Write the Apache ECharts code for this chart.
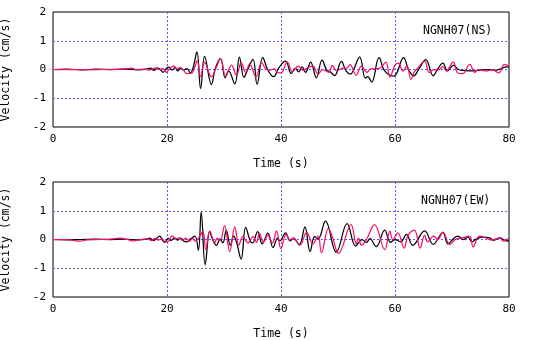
<!DOCTYPE html>
<html>
<head>
<meta charset="utf-8">
<script src="https://cdn.jsdelivr.net/npm/echarts@6/dist/echarts.min.js"></script>
<style>
  html, body { margin: 0; padding: 0; background: #fff; }
  #chart { width: 536px; height: 340px; }
</style>
</head>
<body>
<div id="chart"></div>
<script>
// Velocity records at station NGNH07, two horizontal components.
// Each trace is a list of [time (s), velocity (cm/s)] samples.

const stationNS = 'NGNH07(NS)';
const stationEW = 'NGNH07(EW)';
const xTicks = [0, 20, 40, 60, 80];
const yTicks = [-2, -1, 0, 1, 2];

const nsBlack = [
  [0,0],[2.5,0.01],[5,-0.01],[7.5,0.01],[10,0],[12.5,0.01],[15,-0.01],[16.4,0.01],
  [17.1,0.05],[17.7,-0.03],[18.3,0.05],[18.8,0.01],[19.3,-0.1],[19.9,0.04],[20.4,0.08],[20.9,-0.02],
  [21.4,0.07],[21.9,-0.05],[22.4,0.04],[22.9,-0.02],[23.5,0.03],[24.1,-0.12],[24.6,0.08],
  [25.25,0.61],[25.9,-0.66],[26.6,0.46],[27.8,-0.52],[28.5,0.05],[29.4,0.38],[30.2,-0.29],[30.8,-0.05],
  [31.9,-0.5],[32.7,0.43],[33.5,-0.27],[34.2,0.02],[35.1,0.35],[35.8,-0.52],[36.8,0.41],[37.7,-0.02],
  [38.7,-0.25],[39.6,0.05],[40.8,0.29],[41.8,-0.14],[42.5,0.04],[43.1,-0.08],[43.7,0.09],[44.3,-0.1],
  [45.2,0.26],[46.2,-0.29],[47.2,0.33],[48.0,-0.02],[48.6,-0.08],[49.4,-0.21],[50.6,0.28],[51.4,-0.05],
  [52.2,-0.16],[52.8,0.02],[53.8,0.44],[54.8,-0.3],[55.2,-0.25],[55.9,-0.44],[57.2,0.41],[58.2,-0.05],
  [59.8,-0.23],[61.5,0.41],[62.4,-0.02],[63.3,-0.22],[64.2,0.02],[65.4,0.34],[66.7,-0.22],[67.5,0.02],
  [68.4,0.22],[69.2,-0.05],[70.3,0.15],[71.1,0],[72,-0.03],[73.7,-0.05],[75,-0.02],[76.5,0],
  [77.5,-0.03],[78.5,0.02],[79.5,0.09],[80,0.08]
];

const nsPink = [
  [0,0],[3,0],[6,-0.01],[9,0],[12,0.01],[13.8,0.05],[14.5,0],[16,0.01],[17,-0.02],[17.6,0.03],
  [18.1,0.06],[18.7,0],[19.3,0.03],[19.9,-0.1],[20.5,0.05],[21.2,0.12],[21.8,0.02],[22.3,0.07],
  [22.9,-0.03],[23.5,-0.14],[24.3,-0.13],[24.8,0.05],[25.3,0.3],[25.9,-0.25],[26.6,0.25],[27.8,-0.26],
  [28.6,0.05],[29.4,0.37],[30.3,-0.24],[31.3,0.15],[32.2,-0.2],[33.0,0.24],[33.8,-0.1],[34.5,0.2],
  [35.6,-0.25],[36.6,0.23],[37.4,0],[38.0,-0.02],[38.8,0.02],[39.5,-0.12],[40.0,-0.12],[41.1,0.26],
  [42.0,-0.08],[43.0,0.12],[43.9,-0.03],[44.7,0.06],[45.6,0.12],[46.5,-0.17],[47.3,0],[48.4,-0.1],
  [49.0,0.14],[49.8,-0.05],[50.8,0.05],[51.5,0.04],[52.1,0.17],[53.2,-0.2],[54.1,0.12],[55.1,-0.1],
  [55.8,0.03],[56.6,0.02],[57.4,0.05],[58.4,0.26],[59.1,-0.26],[60.0,0.15],[60.6,0.22],[61.4,-0.05],
  [62.1,0.12],[62.8,-0.35],[63.4,-0.08],[64.0,0.05],[65.2,0.29],[66.0,-0.1],[66.8,0],[67.6,-0.02],
  [68.4,0.1],[69.0,-0.05],[70.2,0.26],[71.0,-0.12],[71.9,-0.14],[73.1,0.18],[74.0,-0.1],[74.6,0],
  [75.2,-0.03],[76.2,-0.05],[77.0,0],[77.6,-0.05],[78.2,-0.12],[79.2,0.18],[80,0.12]
];

const ewBlack = [
  [0,0],[2.5,-0.01],[5,0],[7.5,0.01],[10,0],[12.5,0.01],[15,-0.01],[16.4,0.01],[17.0,0.05],
  [17.6,-0.04],[18.1,0.02],[18.7,0.12],[19.2,-0.02],[19.6,-0.1],[20.2,0.04],[20.7,-0.03],[21.3,0.06],
  [21.8,-0.02],[22.4,0.05],[22.9,-0.05],[23.5,-0.08],[24.1,0.02],[24.9,0.12],[25.5,-0.37],[26.0,0.95],
  [26.7,-0.88],[27.5,0.28],[28.0,0],[28.7,-0.2],[29.3,0.02],[29.8,-0.12],[30.4,0.32],[31.1,-0.2],
  [31.7,0.12],[32.2,-0.1],[33.0,-0.68],[33.8,0.42],[34.6,-0.05],[35.0,-0.12],[35.9,0.27],[36.7,-0.15],
  [37.7,0.22],[38.6,-0.28],[39.4,0.05],[39.8,-0.05],[40.8,0.23],[41.6,-0.05],[42.2,0.05],[43.2,-0.18],
  [44.2,0.44],[45.1,-0.42],[45.9,0.1],[46.5,0.02],[47.8,0.64],[49.7,-0.44],[51.6,0.55],[53.1,-0.23],
  [54.2,0],[55.0,-0.1],[55.6,0.03],[56.7,-0.25],[58.2,0.33],[59.2,-0.1],[60.0,0],[61.0,-0.08],
  [62.0,0.18],[63.1,-0.2],[65.2,0.3],[66.7,-0.17],[68.4,0.24],[69.3,-0.15],[70.2,0.02],[71.0,0.12],
  [72.0,0],[72.8,0.08],[73.5,-0.08],[74.3,0.02],[75.4,0.08],[76.6,0.06],[77.3,-0.03],[78.4,0.06],
  [79.2,-0.02],[80,-0.06]
];

const ewPink = [
  [0,0],[2.5,0],[4.7,-0.06],[6,-0.01],[8.5,0],[10,0.01],[11.8,0.05],[13,0],[14,-0.05],[15.5,0],
  [16.6,0.02],[17.3,-0.04],[17.9,0.04],[18.5,-0.02],[19.1,0.03],[19.7,-0.08],[20.3,-0.05],[20.9,0.13],
  [21.5,0.03],[22.1,0.06],[22.7,-0.03],[23.3,0.05],[23.9,-0.06],[24.5,0.04],[24.9,-0.05],[25.7,0.1],
  [26.3,0.29],[26.8,-0.35],[27.5,0.29],[28.4,-0.1],[28.8,0.05],[29.3,-0.05],[30.1,0.48],[31.0,-0.42],
  [31.9,0.44],[32.6,-0.2],[33.3,0.1],[34.2,-0.12],[35.1,0.1],[35.7,-0.1],[36.2,0.22],[36.9,-0.1],
  [37.7,0.15],[38.5,-0.12],[39.2,0.3],[40.0,-0.32],[40.9,0.18],[41.6,-0.02],[42.1,0.05],[43.3,-0.2],
  [44.5,0.25],[45.6,-0.15],[46.5,0.12],[47.1,-0.46],[48.3,0.38],[49.0,0.1],[50.1,-0.48],[52.3,0.52],
  [53.2,-0.15],[53.6,0.05],[54.1,-0.2],[55.0,0],[56.4,0.52],[58.2,-0.35],[59.1,0.29],[59.6,0],
  [60.5,0.23],[61.6,-0.3],[62.3,0.15],[63.4,0.33],[64.4,-0.3],[65.2,0.15],[65.7,-0.08],[66.8,0.12],
  [67.5,0],[68.4,0.26],[69.6,-0.17],[70.6,0],[71.7,0.05],[73.1,0.12],[73.7,-0.26],[74.8,0.12],
  [75.9,0.06],[77.0,-0.02],[78.4,0.06],[79.0,-0.06],[80,0.05]
];

const FONT = '"DejaVu Sans Mono", monospace';
const GRID_BLUE = '#5a5aff';
const PINK = '#f5106c';

function xAxisFor(gridIndex) {
  return {
    type: 'value', gridIndex,
    min: xTicks[0], max: xTicks[xTicks.length - 1], interval: xTicks[1] - xTicks[0],
    name: 'Time (s)', nameLocation: 'middle', nameGap: 31,
    nameTextStyle: { fontFamily: FONT, fontSize: 11.5, color: '#000' },
    axisLine: { show: false }, axisTick: { show: false },
    axisLabel: { fontFamily: FONT, fontSize: 11, color: '#000', margin: 7 },
    splitLine: { show: true, showMinLine: false, showMaxLine: false,
                 lineStyle: { color: GRID_BLUE, type: [2, 2], width: 1 } }
  };
}

function yAxisFor(gridIndex) {
  return {
    type: 'value', gridIndex,
    min: yTicks[0], max: yTicks[yTicks.length - 1], interval: yTicks[1] - yTicks[0],
    name: 'Velocity (cm/s)', nameLocation: 'middle', nameGap: 41,
    nameTextStyle: { fontFamily: FONT, fontSize: 11.5, color: '#000' },
    axisLine: { show: false }, axisTick: { show: false },
    axisLabel: { fontFamily: FONT, fontSize: 11, color: '#000', margin: 7 },
    splitLine: { show: true, showMinLine: false, showMaxLine: false,
                 lineStyle: { color: GRID_BLUE, type: [2, 2], width: 1 } }
  };
}

function trace(data, idx, color) {
  return {
    type: 'line', data, xAxisIndex: idx, yAxisIndex: idx,
    showSymbol: false, smooth: 0.4,
    lineStyle: { color, width: 1.25 }, silent: true
  };
}

const gridBase = {
  left: 53, width: 456, height: 115, show: true,
  borderColor: '#000', borderWidth: 1, backgroundColor: 'transparent',
  containLabel: false, outerBoundsMode: 'none'
};

const chart = echarts.init(document.getElementById('chart'), null, { renderer: 'canvas' });
chart.setOption({
  animation: false,
  backgroundColor: '#fff',
  title: [
    { text: stationNS, left: 418, top: 20, textStyle: { fontFamily: FONT, fontSize: 11.5, fontWeight: 'normal', color: '#000' } },
    { text: stationEW, left: 416, top: 190, textStyle: { fontFamily: FONT, fontSize: 11.5, fontWeight: 'normal', color: '#000' } }
  ],
  grid: [
    Object.assign({}, gridBase, { top: 12 }),
    Object.assign({}, gridBase, { top: 182 })
  ],
  xAxis: [xAxisFor(0), xAxisFor(1)],
  yAxis: [yAxisFor(0), yAxisFor(1)],
  series: [
    trace(nsBlack, 0, '#000'),
    trace(nsPink, 0, PINK),
    trace(ewBlack, 1, '#000'),
    trace(ewPink, 1, PINK)
  ]
});
</script>
</body>
</html>
